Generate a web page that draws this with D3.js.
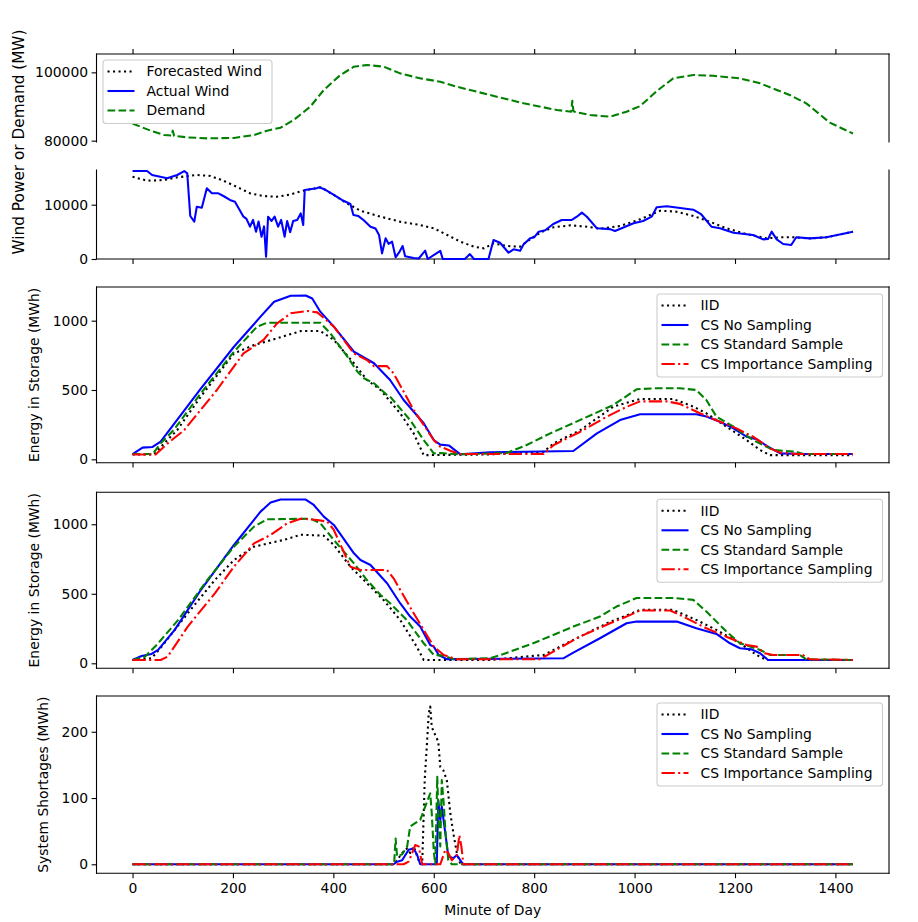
<!DOCTYPE html>
<html>
<head>
<meta charset="utf-8">
<script src="https://cdn.jsdelivr.net/npm/d3@7"></script>
<style>
    body { margin: 0; background: #fff; }
    text { font-family: "DejaVu Sans", sans-serif; fill: #000; }
</style>
</head>
<body>
<div id="chart"></div>
<script>
// ---- data: [minute of day, value] ----

var forecastWind = [[0,15160],[29,14420],[62,14540],[89,15040],[128,15470],[155,15300],[181,14420],[207,13320],
    [234,12100],[260,11600],[287,11450],[313,11850],[340,12580],[375,13200],[401,11790],[427,10250],[454,8900],
    [494,7790],[533,6870],[573,6260],[600,5650],[627,4420],[653,3190],[680,2270],[700,1960],[719,2880],[746,2390],
    [772,2270],[792,3620],[812,4850],[838,5830],[872,6200],[905,5950],[932,5580],[971,6070],[1011,7300],[1051,8900],
    [1084,8710],[1117,7920],[1150,6870],[1183,5650],[1223,4600],[1263,3800],[1290,3990],[1316,3990],[1349,3800],
    [1382,3990],[1435,5030]];

var actualWind = [[0,16200],[29,16200],[39,15470],[69,14860],[89,15470],[103,16200],[109,15780],[115,7920],[123,6870],
    [128,9630],[138,9450],[148,13020],[158,12100],[171,12100],[181,11600],[194,10870],[204,10560],[221,7790],[227,7400],
    [234,5950],[240,7200],[246,5030],[251,6900],[257,4110],[262,6000],[266,420],[270,7790],[277,7000],[283,7790],
    [290,5950],[296,7200],[303,4110],[308,7000],[314,4950],[320,7000],[328,7180],[335,8400],[340,6260],[343,12700],
    [367,13020],[371,13200],[381,12900],[401,11790],[417,10870],[434,10130],[440,8100],[450,7900],[460,7180],[474,5950],
    [484,5600],[491,4420],[497,1040],[504,3800],[510,2800],[517,3200],[524,310],[531,1200],[538,2390],[543,500],
    [560,200],[570,100],[583,1530],[588,0],[613,1500],[618,0],[662,0],[672,900],[680,0],[709,0],[719,3500],[732,3000],
    [749,1160],[759,1780],[772,1500],[779,2700],[792,3800],[800,4000],[809,5030],[822,5300],[838,6450],[855,7180],
    [875,7200],[885,7790],[895,8530],[905,7790],[925,5650],[951,5500],[961,5150],[998,6570],[1017,7000],[1034,7800],
    [1044,9520],[1064,9700],[1087,9450],[1117,9080],[1133,8200],[1153,5950],[1170,5650],[1197,4850],[1236,4420],
    [1256,3620],[1266,3700],[1273,5030],[1283,3620],[1296,2760],[1312,2580],[1322,4000],[1349,3800],[1382,3990],
    [1435,5030]];

var demand = [[0,85000],[36,82930],[63,81660],[78,81500],[80,82930],[83,81400],[109,80970],[149,80680],[202,80800],
    [242,81660],[268,82930],[295,83800],[321,86050],[354,89950],[381,94830],[414,99220],[441,101660],[467,102150],
    [500,101660],[533,99700],[573,98240],[613,97260],[646,95800],[712,93370],[779,90930],[845,88980],[874,88490],
    [876,91700],[878,88800],[880,88490],[911,87500],[951,87020],[984,88490],[1011,90110],[1044,94500],[1077,98240],
    [1117,99220],[1157,98980],[1210,98240],[1250,96780],[1309,93370],[1342,90930],[1389,85270],[1435,82100]];

// storage, run A
var storageA_iid = [[0,35],[43,35],[63,115],[89,211],[136,452],[202,764],[242,824],[288,873],[335,925],[374,925],
    [401,861],[441,693],[467,572],[494,500],[533,332],[560,187],[580,30],[712,35],[819,55],[839,115],[892,211],
    [958,380],[1011,435],[1077,435],[1117,380],[1143,332],[1183,235],[1223,139],[1250,67],[1270,30],[1435,30]];
var storageA_none = [[0,38],[20,84],[40,89],[56,127],[136,510],[202,812],[255,1029],[282,1137],[315,1180],[345,1182],
    [358,1160],[374,1065],[401,957],[441,776],[481,693],[513,572],[540,428],[580,260],[600,139],[613,106],[630,100],
    [653,36],[712,50],[878,60],[925,187],[971,283],[1011,325],[1123,325],[1143,308],[1170,271],[1197,223],[1223,163],
    [1243,145],[1263,97],[1290,43],[1342,38],[1435,38]];
var storageA_std = [[0,38],[40,38],[56,115],[82,211],[136,476],[202,776],[248,957],[268,985],[374,985],[394,909],
    [428,740],[448,632],[461,585],[481,548],[507,464],[513,452],[553,283],[580,139],[600,43],[613,45],[653,36],
    [745,45],[785,103],[832,187],[891,283],[958,392],[1004,505],[1037,512],[1090,512],[1123,500],[1143,428],
    [1163,308],[1197,235],[1236,139],[1276,67],[1322,55],[1335,38],[1435,38]];
var storageA_imp = [[0,35],[46,35],[70,115],[103,211],[168,500],[221,764],[261,861],[288,981],[315,1053],[348,1070],
    [368,1060],[401,957],[441,764],[467,716],[481,672],[507,672],[520,620],[560,356],[600,139],[613,91],[633,62],
    [653,38],[819,38],[839,103],[892,199],[945,308],[985,380],[1011,418],[1064,418],[1090,400],[1130,332],[1170,271],
    [1203,223],[1236,163],[1270,79],[1290,48],[1322,38],[1435,38]];

// storage, run B
var storageB_iid = [[0,24],[38,36],[58,120],[110,360],[164,599],[202,743],[242,839],[301,887],[335,925],[381,918],
    [401,851],[434,695],[467,576],[500,455],[533,312],[566,120],[580,24],[712,24],[819,60],[878,168],[945,288],
    [1011,384],[1077,384],[1123,312],[1163,240],[1210,144],[1243,60],[1263,24],[1435,24]];
var storageB_none = [[0,24],[18,52],[38,67],[51,96],[84,240],[136,527],[202,851],[255,1091],[275,1156],[295,1178],
    [345,1178],[361,1139],[381,1055],[401,995],[441,791],[454,743],[474,707],[507,576],[533,432],[553,336],[573,264],
    [593,132],[600,120],[610,60],[626,30],[858,36],[878,77],[931,180],[984,288],[1004,300],[1084,300],[1123,252],
    [1163,211],[1190,144],[1210,108],[1233,100],[1250,72],[1266,24],[1435,24]];
var storageB_std = [[0,24],[25,48],[51,144],[91,312],[149,599],[202,839],[242,983],[268,1036],[355,1040],[374,1007],
    [401,887],[441,719],[467,599],[494,491],[513,432],[546,312],[580,144],[600,60],[620,55],[640,29],[712,36],
    [739,67],[798,144],[878,264],[931,336],[964,408],[1004,470],[1077,470],[1117,456],[1143,372],[1183,228],
    [1210,144],[1250,96],[1270,60],[1329,60],[1342,29],[1435,24]];
var storageB_imp = [[0,24],[56,24],[70,48],[110,264],[164,503],[202,695],[242,863],[275,923],[308,1007],[335,1040],
    [368,1031],[388,1019],[401,959],[434,695],[454,671],[507,671],[520,611],[560,360],[600,120],[620,60],[646,29],
    [812,29],[832,72],[891,192],[951,288],[984,336],[1011,380],[1071,380],[1097,336],[1143,252],[1190,180],
    [1223,132],[1243,120],[1259,72],[1276,60],[1335,60],[1349,29],[1435,24]];

// shortages
var short_iid = [[0,0],[520,0],[527,6],[537,17],[547,24],[553,17],[560,27],[570,6],[577,0],[582,127],[586,177],
    [590,228],[593,238],[596,207],[603,195],[609,185],[613,147],[619,142],[626,127],[633,77],[639,47],[646,17],
    [653,0],[1435,0]];
var short_none = [[0,0],[520,0],[527,4],[537,6],[550,22],[560,24],[567,14],[573,0],[606,0],[609,97],[613,67],
    [616,87],[623,47],[629,12],[639,9],[646,14],[653,6],[659,0],[1435,0]];
var short_std = [[0,0],[521,0],[524,39],[527,12],[537,15],[547,27],[553,57],[563,62],[573,67],[583,87],[593,107],
    [596,77],[600,20],[603,0],[607,132],[610,60],[613,27],[616,127],[620,90],[623,52],[629,6],[636,0],[1435,0]];
var short_imp = [[0,0],[540,0],[550,4],[557,17],[563,29],[570,27],[577,0],[613,0],[623,22],[629,17],[636,6],
    [646,14],[651,44],[655,27],[659,0],[1435,0]];

var xTicks = [0, 200, 400, 600, 800, 1000, 1200, 1400];
var methodNames = ["IID", "CS No Sampling", "CS Standard Sample", "CS Importance Sampling"];
var windNames = ["Forecasted Wind", "Actual Wind", "Demand"];

// ---- line styles (matplotlib look) ----
var STYLE = {
    dotted:  { color: "#000000", dash: "2.1,3.4" },
    solidB:  { color: "#0000ff", dash: null },
    dashedG: { color: "#008000", dash: "7.7,3.3" },
    dashdot: { color: "#ff0000", dash: "13.3,3.3,2.1,3.3" }
};
var methodStyles = [STYLE.dotted, STYLE.solidB, STYLE.dashedG, STYLE.dashdot];
var windStyles = [STYLE.dotted, STYLE.solidB, STYLE.dashedG];

var W = 918, H = 922;
var LEFT = 96.5, RIGHT = 889;
var LW = 2.08;

var svg = d3.select("#chart").append("svg")
    .attr("width", W)
    .attr("height", H);

var x = d3.scaleLinear().domain([-71.75, 1506.75]).range([LEFT, RIGHT]);

function drawLine(y, data, style) {
    var line = d3.line()
        .x(function (d) { return x(d[0]); })
        .y(function (d) { return y(d[1]); });
    svg.append("path")
        .datum(data)
        .attr("d", line)
        .attr("fill", "none")
        .attr("stroke", style.color)
        .attr("stroke-width", LW)
        .attr("stroke-linejoin", "round")
        .attr("stroke-linecap", "butt")
        .attr("stroke-dasharray", style.dash);
}

// spines: which sides to draw
function drawFrame(top, bottom, sides) {
    var g = svg.append("g").attr("class", "frame");
    if (sides.indexOf("l") >= 0) g.append("line").attr("x1", LEFT).attr("x2", LEFT).attr("y1", top).attr("y2", bottom);
    if (sides.indexOf("r") >= 0) g.append("line").attr("x1", RIGHT).attr("x2", RIGHT).attr("y1", top).attr("y2", bottom);
    if (sides.indexOf("t") >= 0) g.append("line").attr("x1", LEFT).attr("x2", RIGHT).attr("y1", top).attr("y2", top);
    if (sides.indexOf("b") >= 0) g.append("line").attr("x1", LEFT).attr("x2", RIGHT).attr("y1", bottom).attr("y2", bottom);
    g.selectAll("line").attr("stroke", "#000").attr("stroke-width", 1.1).attr("stroke-linecap", "square");
}

function yAxis(y, ticks) {
    var ax = d3.axisLeft(y).tickValues(ticks).tickSize(4.9).tickPadding(3.5).tickFormat(d3.format("d"));
    var g = svg.append("g").attr("transform", "translate(" + LEFT + ",0)").call(ax);
    g.select(".domain").remove();
    g.selectAll("line").attr("stroke-width", 1.1);
    g.selectAll("text").attr("font-size", 13.9).attr("font-family", "DejaVu Sans").attr("fill", "#000");
}

function xAxis(ypos, where, labels) {
    var ax = (where === "top" ? d3.axisTop(x) : d3.axisBottom(x))
        .tickValues(xTicks).tickSize(4.9).tickPadding(4.5)
        .tickFormat(labels ? d3.format("d") : "");
    var g = svg.append("g").attr("transform", "translate(0," + ypos + ")").call(ax);
    g.select(".domain").remove();
    g.selectAll("line").attr("stroke-width", 1.1);
    g.selectAll("text").attr("font-size", 13.9).attr("font-family", "DejaVu Sans").attr("fill", "#000");
}

function legend(x0, y0, w, names, styles) {
    var rowH = 19.5;
    var h = names.length * rowH + 5;
    var g = svg.append("g").attr("transform", "translate(" + x0 + "," + y0 + ")");
    g.append("rect")
        .attr("x", 0.5).attr("y", 0.5)
        .attr("width", w).attr("height", h)
        .attr("rx", 3).attr("ry", 3)
        .attr("fill", "#fff").attr("fill-opacity", 0.8)
        .attr("stroke", "#cccccc").attr("stroke-width", 1.1);
    var rows = g.selectAll("g.row").data(names).enter().append("g")
        .attr("class", "row")
        .attr("transform", function (d, i) { return "translate(0," + (12 + i * rowH) + ")"; });
    rows.append("line")
        .attr("x1", 5).attr("x2", 32).attr("y1", 0).attr("y2", 0)
        .attr("stroke", function (d, i) { return styles[i].color; })
        .attr("stroke-width", LW)
        .attr("stroke-dasharray", function (d, i) { return styles[i].dash; });
    rows.append("text")
        .attr("x", 44).attr("y", 0).attr("dy", "0.35em")
        .attr("font-size", 13.9)
        .text(function (d) { return d; });
}

function yLabel(text, cx, cy, size) {
    svg.append("text")
        .attr("transform", "translate(" + cx + "," + cy + ") rotate(-90)")
        .attr("text-anchor", "middle")
        .attr("dy", "0.35em")
        .attr("font-size", size)
        .text(text);
}

// ---- panel 1: demand (top half of broken axis) ----
var yDem = d3.scaleLinear().domain([79610, 105370]).range([142, 54]);
drawFrame(54, 142, "lrt");
xAxis(54, "top", false);
yAxis(yDem, [80000, 100000]);
drawLine(yDem, demand, STYLE.dashedG);

// ---- panel 2: wind ----
var yWind = d3.scaleLinear().domain([0, 16390]).range([259, 170]);
drawFrame(170, 259, "lrb");
xAxis(259, "bottom", false);
yAxis(yWind, [0, 10000]);
drawLine(yWind, forecastWind, STYLE.dotted);
drawLine(yWind, actualWind, STYLE.solidB);
legend(102.5, 59.5, 169, windNames, windStyles);
yLabel("Wind Power or Demand (MW)", 19, 142, 15.3);

// ---- panels 3-5 ----
var panels = [
    { top: 287, bottom: 462.7, domain: [-24.5, 1243], ticks: [0, 500, 1000],
      series: [storageA_iid, storageA_none, storageA_std, storageA_imp],
      label: "Energy in Storage (MWh)", labelX: 34, xlabels: false },
    { top: 492.3, bottom: 668.3, domain: [-36, 1230], ticks: [0, 500, 1000],
      series: [storageB_iid, storageB_none, storageB_std, storageB_imp],
      label: "Energy in Storage (MWh)", labelX: 34, xlabels: false },
    { top: 696, bottom: 873.3, domain: [-13.6, 254], ticks: [0, 100, 200],
      series: [short_iid, short_none, short_std, short_imp],
      label: "System Shortages (MWh)", labelX: 43, xlabels: true }
];

panels.forEach(function (p) {
    var y = d3.scaleLinear().domain(p.domain).range([p.bottom, p.top]);
    p.series.forEach(function (s, i) {
        drawLine(y, s, methodStyles[i]);
    });
    drawFrame(p.top, p.bottom, "lrtb");
    xAxis(p.bottom, "bottom", p.xlabels);
    yAxis(y, p.ticks);
    legend(656.5, p.top + 6.5, 225.5, methodNames, methodStyles);
    yLabel(p.label, p.labelX, (p.top + p.bottom) / 2, 13.9);
});

svg.append("text")
    .attr("x", (LEFT + RIGHT) / 2)
    .attr("y", 915)
    .attr("text-anchor", "middle")
    .attr("font-size", 13.9)
    .text("Minute of Day");
</script>
</body>
</html>
